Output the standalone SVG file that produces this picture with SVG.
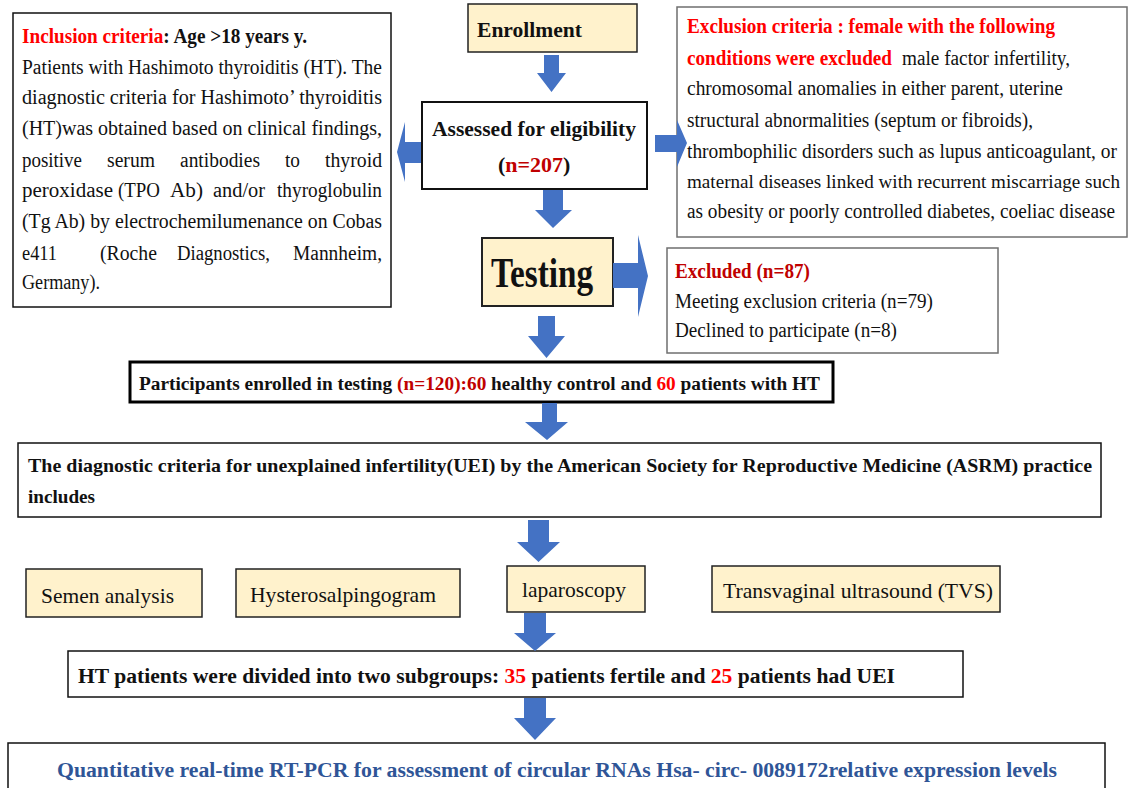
<svg xmlns="http://www.w3.org/2000/svg" width="1130" height="788" viewBox="0 0 1130 788">
<style>
text{font-family:"Liberation Serif","Times New Roman",serif;fill:#111}
.b{font-weight:bold}
.r{fill:#ff0000}
.dr{fill:#c00000}
.box{fill:#fff;stroke:#111;stroke-width:1.5}
.gbox{fill:#fff;stroke:#6f6f6f;stroke-width:1.5}
.beige{fill:#fff2cc;stroke:#222;stroke-width:1.5}
.arr{fill:#4472c4}
.t20{font-size:20px}
.t19{font-size:19px}
.t22{font-size:22px}
.blue{fill:#2f5597}
</style>
<rect width="1130" height="788" fill="#fff"/>
<g id="inclusion">
<rect class="box" x="13" y="13" width="378" height="294"/>
<text class="b t20" x="22" y="43" textLength="285" lengthAdjust="spacingAndGlyphs"><tspan class="r">Inclusion criteria</tspan>: Age &gt;18 years y.</text>
<text class="t20" x="22" y="74" textLength="360" lengthAdjust="spacingAndGlyphs">Patients with Hashimoto thyroiditis (HT). The</text>
<text class="t20" x="22" y="104" textLength="360" lengthAdjust="spacingAndGlyphs">diagnostic criteria for Hashimoto’ thyroiditis</text>
<text class="t20" x="22" y="135" textLength="360" lengthAdjust="spacingAndGlyphs">(HT)was obtained based on clinical findings,</text>
<text class="t20" x="22" y="167" textLength="60" lengthAdjust="spacingAndGlyphs">positive</text>
<text class="t20" x="107" y="167" textLength="48" lengthAdjust="spacingAndGlyphs">serum</text>
<text class="t20" x="180" y="167" textLength="80" lengthAdjust="spacingAndGlyphs">antibodies</text>
<text class="t20" x="285" y="167" textLength="15" lengthAdjust="spacingAndGlyphs">to</text>
<text class="t20" x="325" y="167" textLength="57" lengthAdjust="spacingAndGlyphs">thyroid</text>
<text class="t20" x="22" y="197" textLength="91" lengthAdjust="spacingAndGlyphs">peroxidase</text>
<text class="t20" x="118" y="197" textLength="42" lengthAdjust="spacingAndGlyphs">(TPO</text>
<text class="t20" x="170" y="197" textLength="33" lengthAdjust="spacingAndGlyphs">Ab)</text>
<text class="t20" x="213" y="197" textLength="52" lengthAdjust="spacingAndGlyphs">and/or</text>
<text class="t20" x="277" y="197" textLength="105" lengthAdjust="spacingAndGlyphs">thyroglobulin</text>
<text class="t20" x="22" y="228" textLength="360" lengthAdjust="spacingAndGlyphs">(Tg Ab) by electrochemilumenance on Cobas</text>
<text class="t20" x="22" y="260" textLength="35" lengthAdjust="spacingAndGlyphs">e411</text>
<text class="t20" x="100" y="260" textLength="57" lengthAdjust="spacingAndGlyphs">(Roche</text>
<text class="t20" x="177" y="260" textLength="93" lengthAdjust="spacingAndGlyphs">Diagnostics,</text>
<text class="t20" x="293" y="260" textLength="89" lengthAdjust="spacingAndGlyphs">Mannheim,</text>
<text class="t20" x="22" y="289" textLength="78" lengthAdjust="spacingAndGlyphs">Germany).</text>
</g>
<g id="enrollment">
<rect class="beige" x="468" y="4" width="169" height="48"/>
<text class="b t22" x="477" y="37" textLength="105" lengthAdjust="spacingAndGlyphs">Enrollment</text>
</g>
<g id="assessed">
<rect class="box" x="422" y="102" width="225" height="87" style="stroke-width:2"/>
<text class="b t22" x="432" y="136" textLength="204" lengthAdjust="spacingAndGlyphs">Assessed for eligibility</text>
<text class="b t22" x="498" y="172">(<tspan class="dr">n=207</tspan>)</text>
</g>
<g id="exclusion-criteria">
<rect class="gbox" x="677" y="7" width="450" height="230"/>
<text class="b t20 r" x="687" y="33" textLength="368" lengthAdjust="spacingAndGlyphs">Exclusion criteria : female with the following</text>
<text class="b t20 r" x="687" y="65" textLength="205" lengthAdjust="spacingAndGlyphs">conditions were excluded</text>
<text class="t20" x="902" y="65" textLength="168" lengthAdjust="spacingAndGlyphs">male factor infertility,</text>
<text class="t20" x="687" y="95" textLength="376" lengthAdjust="spacingAndGlyphs">chromosomal anomalies in either parent,  uterine</text>
<text class="t20" x="687" y="127" textLength="346" lengthAdjust="spacingAndGlyphs">structural abnormalities (septum or fibroids),</text>
<text class="t20" x="687" y="158" textLength="430" lengthAdjust="spacingAndGlyphs">thrombophilic disorders  such as lupus anticoagulant, or</text>
<text class="t19" x="687" y="188" textLength="433" lengthAdjust="spacingAndGlyphs">maternal diseases linked with recurrent miscarriage such</text>
<text class="t20" x="687" y="218" textLength="428" lengthAdjust="spacingAndGlyphs">as obesity or poorly controlled diabetes, coeliac disease</text>
</g>
<g id="testing">
<rect class="beige" x="482" y="238" width="131" height="68" style="stroke-width:2"/>
<text class="b" x="491" y="287" font-size="42" textLength="102" lengthAdjust="spacingAndGlyphs">Testing</text>
</g>
<g id="excluded">
<rect class="gbox" x="667" y="248" width="331" height="105"/>
<text class="b t20 dr" x="675" y="278" textLength="135" lengthAdjust="spacingAndGlyphs">Excluded (n=87)</text>
<text class="t20" x="675" y="308" textLength="258" lengthAdjust="spacingAndGlyphs">Meeting exclusion criteria (n=79)</text>
<text class="t20" x="675" y="337" textLength="222" lengthAdjust="spacingAndGlyphs">Declined to participate (n=8)</text>
</g>
<g id="participants">
<rect x="130" y="362" width="703" height="40" fill="#fff" stroke="#000" stroke-width="3"/>
<text class="b" font-size="18.5" x="139" y="390" textLength="681" lengthAdjust="spacingAndGlyphs">Participants enrolled in testing <tspan class="dr">(n=120):60</tspan> healthy control and <tspan class="r">60</tspan> patients with HT</text>
</g>
<g id="uei-criteria">
<rect class="box" x="18" y="443" width="1083" height="74"/>
<text class="b t19" x="28" y="472" textLength="1064" lengthAdjust="spacingAndGlyphs">The diagnostic criteria for unexplained infertility(UEI) by the American Society for Reproductive Medicine  (ASRM)  practice</text>
<text class="b t19" x="28" y="503" textLength="67" lengthAdjust="spacingAndGlyphs">includes</text>
</g>
<g id="semen">
<rect class="beige" x="26" y="569" width="176" height="48"/>
<text class="t22" x="41" y="603" textLength="133" lengthAdjust="spacingAndGlyphs">Semen analysis</text>
</g>
<g id="hsg">
<rect class="beige" x="236" y="569" width="224" height="48"/>
<text class="t22" x="250" y="602" textLength="186" lengthAdjust="spacingAndGlyphs">Hysterosalpingogram</text>
</g>
<g id="laparoscopy">
<rect class="beige" x="507" y="566" width="138" height="46"/>
<text class="t22" x="522" y="597" textLength="104" lengthAdjust="spacingAndGlyphs">laparoscopy</text>
</g>
<g id="tvs">
<rect class="beige" x="712" y="566" width="288" height="46"/>
<text class="t22" x="723" y="598" textLength="270" lengthAdjust="spacingAndGlyphs">Transvaginal ultrasound (TVS)</text>
</g>
<g id="subgroups">
<rect class="box" x="68" y="651" width="895" height="46"/>
<text class="b t20" x="78" y="683" textLength="817" lengthAdjust="spacingAndGlyphs">HT patients were divided into two subgroups: <tspan class="r">35</tspan> patients fertile and <tspan class="r">25</tspan> patients had UEI</text>
</g>
<g id="qpcr">
<rect class="box" x="8" y="743" width="1097" height="60"/>
<text class="b t20 blue" x="57" y="777" textLength="1000" lengthAdjust="spacingAndGlyphs">Quantitative real-time RT-PCR for assessment of circular RNAs Hsa- circ- 0089172relative  expression levels</text>
</g>
<g id="connectors">
<polygon class="arr" points="544,55 559,55 559,73 566,73 551.5,92 537,73 544,73"/>
<polygon class="arr" points="543,190 563,190 563,210 572,210 553,228 535,210 543,210"/>
<polygon class="arr" points="538,316 555,316 555,336 565,336 546.5,358 528,336 538,336"/>
<polygon class="arr" points="542,403 557,403 557,422 568,422 547,440 525,422 542,422"/>
<polygon class="arr" points="528,520 549,520 549,542 560,542 538.5,562 517,542 528,542"/>
<polygon class="arr" points="524,613 546,613 546,633 556,633 535,651 514,633 524,633"/>
<polygon class="arr" points="524,698 546,698 546,718 556,718 535,740 514,718 524,718"/>
<polygon class="arr" points="421,142 421,163 405,163 405,182 397,152 405,122 405,142"/>
<polygon class="arr" points="655,135 677,135 677,120 687,143 677,167 677,152 655,152"/>
<polygon class="arr" points="613,263 638,263 638,235 648,276 638,317 638,288 613,288"/>
</g>
</svg>
